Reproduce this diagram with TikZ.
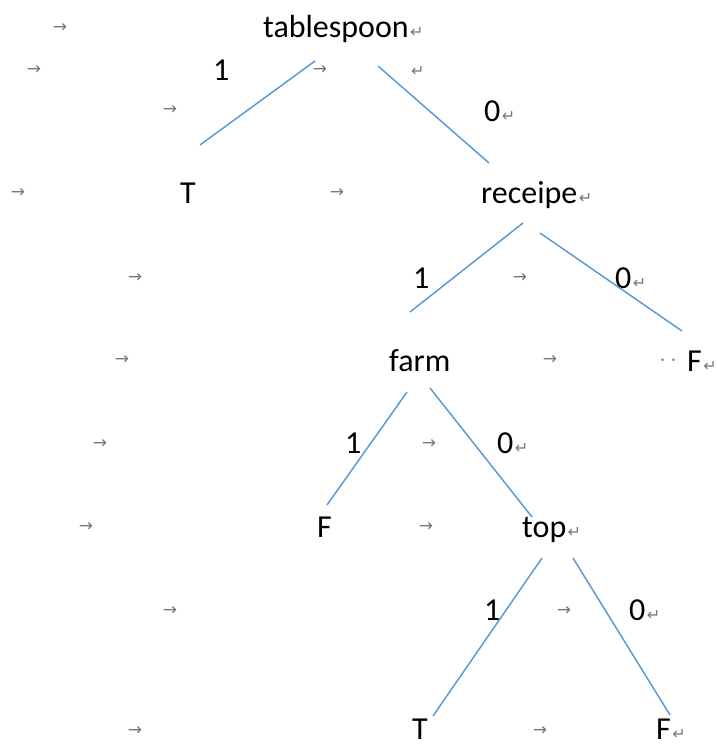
\documentclass[tikz,border=0pt]{standalone}
\usepackage{fontspec}
\setmainfont{Carlito}
\newfontfamily\symfont{DejaVu Sans}
\definecolor{edgeblue}{RGB}{91,155,213}
\definecolor{markgray}{RGB}{120,120,120}
\begin{document}
\begin{tikzpicture}[x=1pt,y=-1pt,
  word/.style={anchor=base west,inner sep=0pt,font=\fontsize{32}{38}\selectfont},
  tabmark/.style={inner sep=0pt,text=markgray,font=\symfont\fontsize{17}{17}\selectfont},
  retmark/.style={inner sep=0pt,anchor=west,text=markgray,font=\symfont\fontsize{16}{16}\selectfont},
  branch/.style={draw=edgeblue,line width=1.5pt}]
\useasboundingbox (0,0) rectangle (716,745);
% words
\node[word] (tablespoon) at (263,37) {tablespoon};
\node[word] (one1) at (213,80) {1};
\node[word] (zero1) at (484,121) {0};
\node[word] (T1) at (180,203) {T};
\node[word] (receipe) at (481,203) {receipe};
\node[word] (one2) at (413,288) {1};
\node[word] (zero2) at (615,288) {0};
\node[word] (farm) at (389,371) {farm};
\node[word] (F1) at (687,371) {F};
\node[inner sep=0pt,text=markgray,font=\fontsize{24}{24}\selectfont] (dots) at (668,361) {$\cdot\,\cdot$};
\node[word] (one3) at (345,453) {1};
\node[word] (zero3) at (497,453) {0};
\node[word] (F2) at (317,537) {F};
\node[word] (top) at (522,537) {top};
\node[word] (one4) at (484,620) {1};
\node[word] (zero4) at (629,620) {0};
\node[word] (T2) at (412,739) {T};
\node[word] (F3) at (656,739) {F};
% tab marks
\foreach \x/\y [count=\i] in {60/28,34/70,170/110,320/70,18/193,337/193,135/278,520/278,122/360,550/360,100/444,429/444,86/527,426/527,170/611,564/611,135/731,540/731}
  \node[tabmark] (tab\i) at (\x,\y) {→};
% return marks
\foreach \w [count=\i] in {tablespoon,receipe,zero1,zero2,F1,zero3,top,zero4,F3}
  \node[retmark] (ret\i) at ([xshift=1pt,yshift=5pt]\w.base east) {↵};
\node[retmark] (ret10) at (411,71) {↵};
% connector ends
\coordinate (a1) at (315,61);  \coordinate (a2) at (200,145);
\coordinate (b1) at (378,66);  \coordinate (b2) at (489,163);
\coordinate (c1) at (523,223); \coordinate (c2) at (410,312);
\coordinate (d1) at (540,233); \coordinate (d2) at (682,331);
\coordinate (e1) at (407,392); \coordinate (e2) at (327,505);
\coordinate (f1) at (430,388); \coordinate (f2) at (532,517);
\coordinate (g1) at (542,558); \coordinate (g2) at (433,716);
\coordinate (h1) at (573,558); \coordinate (h2) at (670,715);
\draw[branch] (a1) -- (a2);
\draw[branch] (b1) -- (b2);
\draw[branch] (c1) -- (c2);
\draw[branch] (d1) -- (d2);
\draw[branch] (e1) -- (e2);
\draw[branch] (f1) -- (f2);
\draw[branch] (g1) -- (g2);
\draw[branch] (h1) -- (h2);
\end{tikzpicture}
\end{document}
